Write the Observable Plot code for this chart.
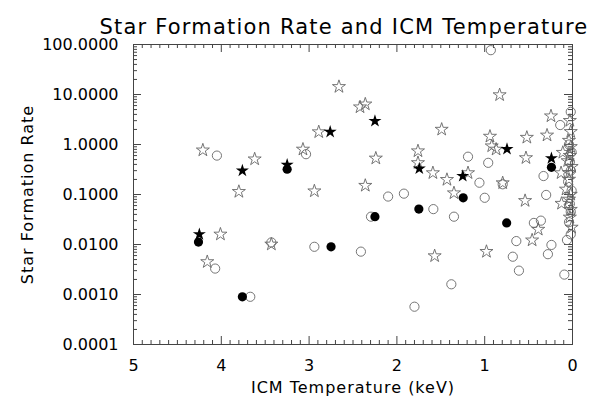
<!DOCTYPE html>
<html><head><meta charset="utf-8">
<script src="https://cdn.jsdelivr.net/npm/d3@7"></script>
<script src="https://cdn.jsdelivr.net/npm/@observablehq/plot@0.6"></script>
<style>body{margin:0;background:#fff}</style>
</head><body><div id="chart"></div>
<script>
const title = "Star Formation Rate and ICM Temperature";
const xLabel = "ICM Temperature (keV)";
const yLabel = "Star Formation Rate";
const xTicks = [5, 4, 3, 2, 1, 0];
const yTicks = [0.0001, 0.001, 0.01, 0.1, 1, 10, 100];

const openStarT = [4.21,3.62,3.80,4.01,4.16,3.43,2.66,2.42,2.36,2.89,3.07,2.24,2.94,2.36,1.76,1.76,0.83,1.49,0.245,0.94,0.92,0.87,0.52,0.29,1.59,1.43,1.19,0.795,0.53,0.13,1.35,0.54,0.125,0.39,0.46,1.57,0.98,0.11,0.074,
  0.055,0.036,0.03,0.02,0.04,0.02,0.03,0.01,0.04,0.02,0.04,0.02,0.03,0.01];
const openStarSFR = [0.77,0.51,0.114,0.016,0.0045,0.0101,14.3,5.6,6.4,1.78,0.80,0.53,0.117,0.151,0.74,0.43,9.8,2.0,3.7,1.45,0.93,0.80,1.38,1.53,0.27,0.198,0.27,0.17,0.54,0.27,0.107,0.075,0.066,0.020,0.0122,0.0059,0.0072,0.69,0.127,
  0.47,0.27,3.0,1.8,1.2,0.9,0.6,0.36,0.2,0.1,0.08,0.05,0.035,0.022];

const filledStarT = [4.25,3.76,3.25,2.76,2.25,1.745,1.25,0.746,0.24];
const filledStarSFR = [0.016,0.30,0.39,1.78,2.95,0.33,0.234,0.81,0.53];

const filledCircleT = [4.26,3.76,3.25,2.75,2.25,1.75,1.245,0.75,0.24];
const filledCircleSFR = [0.0112,0.0009,0.32,0.0090,0.036,0.051,0.086,0.027,0.35];

const openCircleT = [4.05,4.07,3.67,3.43,3.035,2.94,2.41,2.295,2.10,1.92,1.80,0.93,0.14,1.19,0.96,1.06,0.795,0.33,1.585,1.35,1.00,0.30,0.44,0.36,0.64,0.24,0.063,0.28,0.68,0.61,0.093,1.38,
  0.02,0.04,0.01,0.03,0.02,0.05,0.01,0.03,0.02,0.04,0.02];
const openCircleSFR = [0.60,0.0033,0.0009,0.011,0.64,0.0090,0.0072,0.036,0.091,0.104,0.00057,77,2.45,0.57,0.43,0.172,0.16,0.234,0.051,0.036,0.086,0.098,0.027,0.030,0.0117,0.0098,0.0123,0.0064,0.0057,0.0030,0.0025,0.0016,
  4.5,1.0,0.7,0.45,0.3,0.18,0.12,0.065,0.045,0.028,0.016];

const rows = (T, S) => T.map((t, i) => ({t, sfr: S[i]}));
const openStars = rows(openStarT, openStarSFR);
const filledStars = rows(filledStarT, filledStarSFR);
const openCircles = rows(openCircleT, openCircleSFR);
const filledCircles = rows(filledCircleT, filledCircleSFR);

// minor tick positions (axis decoration)
const yMinor = [];
for (let i = 0; i < yTicks.length - 1; i++) for (let k = 2; k <= 9; k++) yMinor.push(yTicks[i] * k);
const xMinor = d3.range(1, 50).filter(i => i % 10 !== 0).map(i => i / 10);

const W = 594, H = 400, mL = 133, mR = 22, mT = 44, mB = 56;
const fw = W - mL - mR, fh = H - mT - mB;
const major = 8, minor = 4;
const axisColor = "#444";
const font = "DejaVu Sans";

const chart = Plot.plot({
  width: W, height: H,
  marginLeft: mL, marginRight: mR, marginTop: mT, marginBottom: mB,
  style: {background: "#fff", color: "#000", fontFamily: font},
  x: {domain: [5, 0], axis: null},
  y: {type: "log", domain: [0.0001, 100], axis: null},
  marks: [
    Plot.tickY(yTicks, {y: d => d, insetRight: fw - major, stroke: axisColor}),
    Plot.tickY(yTicks, {y: d => d, insetLeft: fw - major, stroke: axisColor}),
    Plot.tickY(yMinor, {y: d => d, insetRight: fw - minor, stroke: axisColor}),
    Plot.tickY(yMinor, {y: d => d, insetLeft: fw - minor, stroke: axisColor}),
    Plot.tickX(xTicks, {x: d => d, insetTop: fh - major, stroke: axisColor}),
    Plot.tickX(xTicks, {x: d => d, insetBottom: fh - major, stroke: axisColor}),
    Plot.tickX(xMinor, {x: d => d, insetTop: fh - minor, stroke: axisColor}),
    Plot.tickX(xMinor, {x: d => d, insetBottom: fh - minor, stroke: axisColor}),
    Plot.frame({stroke: axisColor}),
    Plot.axisY({ticks: yTicks, tickFormat: d3.format(".4f"), tickSize: 0, tickPadding: 15, fontSize: 16, fontFamily: font, label: null}),
    Plot.axisX({ticks: xTicks, tickFormat: d => String(d), tickSize: 0, tickPadding: 15, fontSize: 16, fontFamily: font, label: null}),
    Plot.dot(openCircles, {x: "t", y: "sfr", symbol: "circle", r: 4.6, stroke: "#666", strokeWidth: 0.9, fill: "none"}),
    Plot.dot(openStars, {x: "t", y: "sfr", symbol: "star", r: 4.1, stroke: "#666", strokeWidth: 0.9, fill: "none"}),
    Plot.dot(filledCircles, {x: "t", y: "sfr", symbol: "circle", r: 4.6, fill: "#000", stroke: "none"}),
    Plot.dot(filledStars, {x: "t", y: "sfr", symbol: "star", r: 4.1, fill: "#000", stroke: "none"}),
    Plot.text([title], {frameAnchor: "top", dy: -25, dx: -9, fontSize: 21, fontFamily: font, fill: "#000"}),
    Plot.text([xLabel], {frameAnchor: "bottom", dy: 48, fontSize: 16, fontFamily: font, fill: "#000"}),
    Plot.text([yLabel], {frameAnchor: "left", textAnchor: "middle", dx: -106, rotate: -90, fontSize: 16, fontFamily: font, fill: "#000"})
  ]
});
d3.select(chart).selectAll("text")
  .filter(function () { return this.textContent === title; })
  .style("letter-spacing", "1.2px");
d3.select(chart).selectAll("text")
  .filter(function () { return this.textContent === xLabel || this.textContent === yLabel; })
  .style("letter-spacing", "1px");
document.getElementById("chart").appendChild(chart);
</script>
</body></html>
